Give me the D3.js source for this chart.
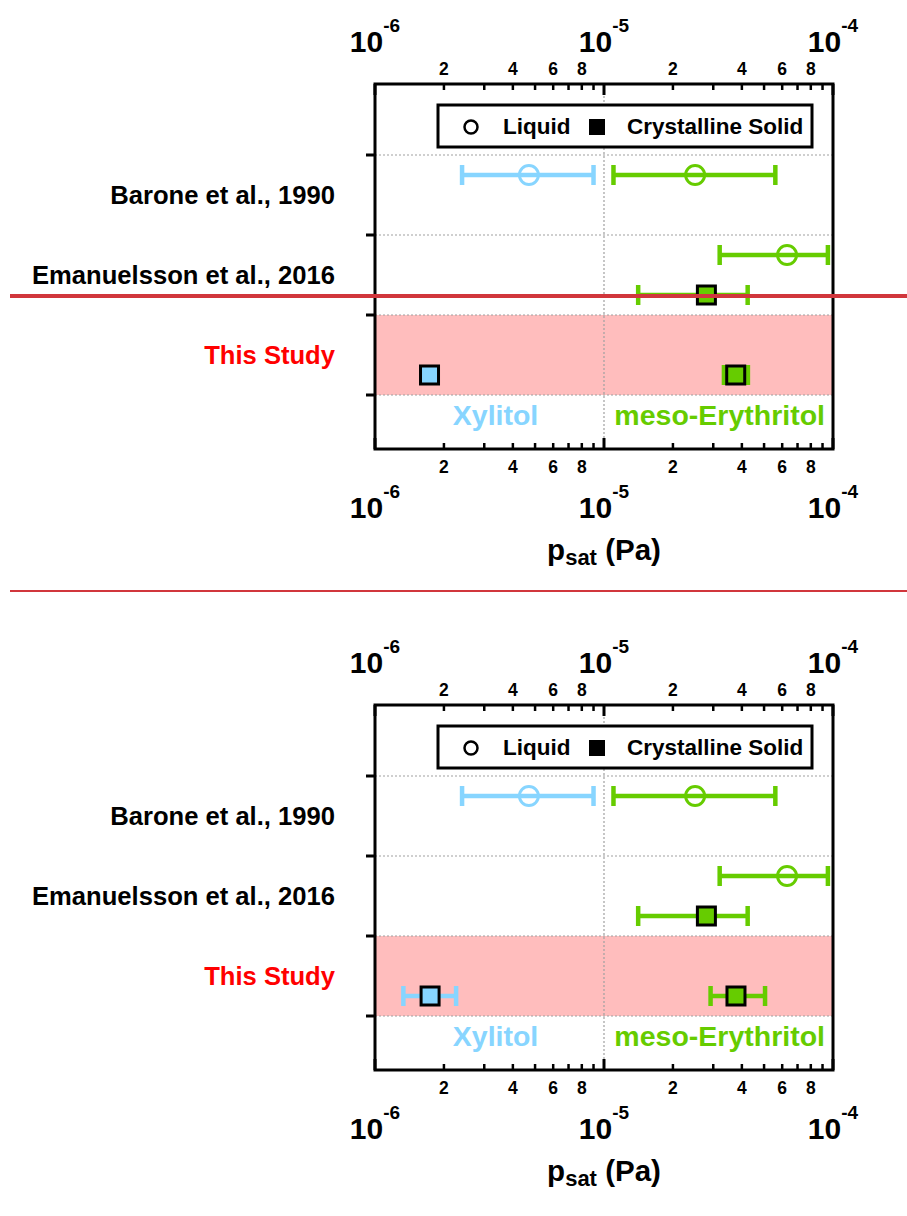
<!DOCTYPE html>
<html><head><meta charset="utf-8">
<script src="https://cdn.jsdelivr.net/npm/d3@7"></script>
<style>
body{margin:0;background:#fff;}
svg{display:block;font-family:"Liberation Sans",Arial,sans-serif;font-weight:bold;}
</style></head>
<body><svg id="c" width="907" height="1216"></svg>
<script>
// ---------- data ----------
const categories = ["Barone et al., 1990", "Emanuelsson et al., 2016", "This Study"];
const compounds = ["Xylitol", "meso-Erythritol"];
const majorTicks = [1e-6, 1e-5, 1e-4];
const majorExponents = ["-6", "-5", "-4"];
const minorLabelDigits = [2, 4, 6, 8];
const legendItems = ["Liquid", "Crystalline Solid"];

// slot: "upper" / "lower" half of a category row
const panelTopData = [
  {cat: "Barone et al., 1990", slot: "upper", compound: "Xylitol", phase: "Liquid", v: 4.7e-6, lo: 2.4e-6, hi: 9.0e-6},
  {cat: "Barone et al., 1990", slot: "upper", compound: "meso-Erythritol", phase: "Liquid", v: 2.5e-5, lo: 1.1e-5, hi: 5.6e-5},
  {cat: "Emanuelsson et al., 2016", slot: "upper", compound: "meso-Erythritol", phase: "Liquid", v: 6.3e-5, lo: 3.2e-5, hi: 9.5e-5},
  {cat: "Emanuelsson et al., 2016", slot: "lower", compound: "meso-Erythritol", phase: "Crystalline Solid", v: 2.8e-5, lo: 1.41e-5, hi: 4.24e-5},
  {cat: "This Study", slot: "lower", compound: "Xylitol", phase: "Crystalline Solid", v: 1.73e-6, lo: null, hi: null},
  {cat: "This Study", slot: "lower", compound: "meso-Erythritol", phase: "Crystalline Solid", v: 3.76e-5, lo: 3.34e-5, hi: 4.25e-5}
];
const panelBottomData = [
  {cat: "Barone et al., 1990", slot: "upper", compound: "Xylitol", phase: "Liquid", v: 4.7e-6, lo: 2.4e-6, hi: 9.0e-6},
  {cat: "Barone et al., 1990", slot: "upper", compound: "meso-Erythritol", phase: "Liquid", v: 2.5e-5, lo: 1.1e-5, hi: 5.6e-5},
  {cat: "Emanuelsson et al., 2016", slot: "upper", compound: "meso-Erythritol", phase: "Liquid", v: 6.3e-5, lo: 3.2e-5, hi: 9.5e-5},
  {cat: "Emanuelsson et al., 2016", slot: "lower", compound: "meso-Erythritol", phase: "Crystalline Solid", v: 2.8e-5, lo: 1.41e-5, hi: 4.24e-5},
  {cat: "This Study", slot: "lower", compound: "Xylitol", phase: "Crystalline Solid", v: 1.74e-6, lo: 1.33e-6, hi: 2.26e-6},
  {cat: "This Study", slot: "lower", compound: "meso-Erythritol", phase: "Crystalline Solid", v: 3.77e-5, lo: 2.92e-5, hi: 5.05e-5}
];
// compound label centres (in Pa, along the x axis)
const compoundLabelPos = [3.36e-6, 3.2e-5];

// ---------- styles ----------
const colors = {"Xylitol": "#87d5ff", "meso-Erythritol": "#66cc00"};
const bandColor = "#ffbdbd";
const sepColor = "#d1363c";

const svg = d3.select("#c");
const x = d3.scaleLog().domain([1e-6, 1e-4]).range([375, 833]);
const frameTop = 84, frameBot = 449;
const yBand = d3.scaleBand().domain(categories).range([155, 395]);
const slotFrac = {upper: 0.25, lower: 0.75};
const yOf = d => yBand(d.cat) + yBand.bandwidth() * slotFrac[d.slot];

function drawPanel(offset, data) {
  const g = svg.append("g").attr("transform", `translate(0,${offset})`);
  const [x0, x1] = x.range();

  g.append("rect").attr("x", x0).attr("width", x1 - x0)
    .attr("y", yBand("This Study")).attr("height", yBand.bandwidth())
    .attr("fill", bandColor);

  const bounds = categories.map(c => yBand(c)).concat([yBand.range()[1]]);
  g.selectAll(".hg").data(bounds).enter().append("line")
    .attr("x1", x0).attr("x2", x1).attr("y1", d => d).attr("y2", d => d)
    .attr("stroke", "#a0a0a0").attr("stroke-width", 1.2).attr("stroke-dasharray", "2,2");
  g.append("line").attr("x1", x(1e-5)).attr("x2", x(1e-5)).attr("y1", frameTop).attr("y2", frameBot)
    .attr("stroke", "#a0a0a0").attr("stroke-width", 1.2).attr("stroke-dasharray", "2,2");

  g.selectAll(".lt").data(bounds).enter().append("line")
    .attr("x1", x0 - 9).attr("x2", x0).attr("y1", d => d).attr("y2", d => d)
    .attr("stroke", "#000").attr("stroke-width", 3);

  const ticks = x.ticks();
  const isMajor = t => majorTicks.some(m => Math.abs(t / m - 1) < 1e-6);
  [frameTop, frameBot].forEach((yy, i) => {
    const dir = i === 0 ? 1 : -1;
    g.selectAll(null).data(ticks).enter().append("line")
      .attr("x1", d => x(d)).attr("x2", d => x(d))
      .attr("y1", yy).attr("y2", d => yy + dir * (isMajor(d) ? 11 : 6))
      .attr("stroke", "#000").attr("stroke-width", d => isMajor(d) ? 3 : 2.5);
  });

  g.append("rect").attr("x", x0).attr("y", frameTop).attr("width", x1 - x0).attr("height", frameBot - frameTop)
    .attr("fill", "none").attr("stroke", "#000").attr("stroke-width", 3);

  const mant = t => Math.round(t / Math.pow(10, Math.floor(Math.log10(t) + 1e-9)));
  const minorLab = ticks.filter(t => !isMajor(t) && minorLabelDigits.includes(mant(t)));
  [75, 473].forEach(by => {
    g.selectAll(null).data(minorLab).enter().append("text")
      .attr("x", d => x(d)).attr("y", by).attr("text-anchor", "middle")
      .attr("font-size", 17.5).text(d => mant(d));
  });
  [52, 518].forEach(by => {
    const t = g.selectAll(null).data(majorTicks).enter().append("text")
      .attr("x", d => x(d)).attr("y", by).attr("text-anchor", "middle").attr("font-size", 30);
    t.append("tspan").text("10");
    t.append("tspan").attr("font-size", 19).attr("dy", -20).text((d, i) => majorExponents[i]);
  });

  const tt = g.append("text").attr("x", x(1e-5)).attr("y", 560).attr("text-anchor", "middle").attr("font-size", 29.5);
  tt.append("tspan").text("p");
  tt.append("tspan").attr("font-size", 22).attr("dy", 5).text("sat");
  tt.append("tspan").attr("dy", -5).text(" (Pa)");

  g.selectAll(".cl").data(categories).enter().append("text")
    .attr("x", 335).attr("y", d => yBand(d) + yBand.bandwidth() / 2 + 9)
    .attr("text-anchor", "end").attr("font-size", 25.6)
    .attr("fill", d => d === "This Study" ? "#ff0000" : "#000").text(d => d);

  g.selectAll(".cp").data(compounds).enter().append("text")
    .attr("x", (d, i) => x(compoundLabelPos[i])).attr("y", 425)
    .attr("text-anchor", "middle").attr("font-size", 28.5)
    .attr("fill", d => colors[d]).text(d => d);

  const eb = data.filter(d => d.lo != null);
  g.selectAll(null).data(eb).enter().append("line")
    .attr("x1", d => x(d.lo)).attr("x2", d => x(d.hi)).attr("y1", yOf).attr("y2", yOf)
    .attr("stroke", d => colors[d.compound]).attr("stroke-width", 4.5);
  ["lo", "hi"].forEach(k => {
    g.selectAll(null).data(eb).enter().append("line")
      .attr("x1", d => x(d[k])).attr("x2", d => x(d[k]))
      .attr("y1", d => yOf(d) - 10).attr("y2", d => yOf(d) + 10)
      .attr("stroke", d => colors[d.compound]).attr("stroke-width", 4.5);
  });

  g.selectAll(null).data(data.filter(d => d.phase === "Liquid")).enter().append("circle")
    .attr("cx", d => x(d.v)).attr("cy", yOf).attr("r", 9.5)
    .attr("fill", "none").attr("stroke", d => colors[d.compound]).attr("stroke-width", 3);
  g.selectAll(null).data(data.filter(d => d.phase !== "Liquid")).enter().append("rect")
    .attr("x", d => x(d.v) - 9).attr("y", d => yOf(d) - 9).attr("width", 18).attr("height", 18)
    .attr("fill", d => colors[d.compound]).attr("stroke", "#000").attr("stroke-width", 3);

  g.append("rect").attr("x", 438).attr("y", 105).attr("width", 374).attr("height", 42)
    .attr("fill", "#fff").attr("stroke", "#000").attr("stroke-width", 3);
  g.append("circle").attr("cx", 471).attr("cy", 127).attr("r", 6.5)
    .attr("fill", "none").attr("stroke", "#000").attr("stroke-width", 2.5);
  g.append("rect").attr("x", 589).attr("y", 119).attr("width", 16).attr("height", 16).attr("fill", "#000");
  g.selectAll(".lg").data(legendItems).enter().append("text")
    .attr("x", (d, i) => i === 0 ? 503 : 627).attr("y", 134).attr("font-size", 22.5).text(d => d);
  return g;
}

drawPanel(0, panelTopData);
drawPanel(621, panelBottomData);

svg.append("line").attr("x1", 10).attr("x2", 907).attr("y1", 296).attr("y2", 296)
  .attr("stroke", sepColor).attr("stroke-width", 4);
svg.append("line").attr("x1", 10).attr("x2", 907).attr("y1", 591).attr("y2", 591)
  .attr("stroke", sepColor).attr("stroke-width", 2);
</script></body></html>
